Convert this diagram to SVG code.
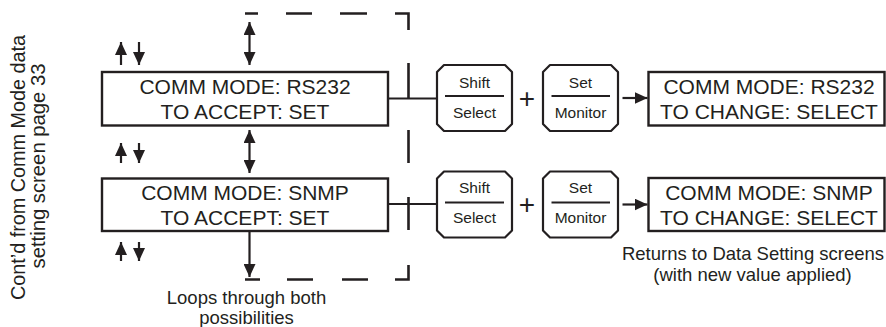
<svg xmlns="http://www.w3.org/2000/svg" xmlns:xlink="http://www.w3.org/1999/xlink" width="886" height="327" viewBox="0 0 886 327">
<defs>
<style>
text{font-family:"Liberation Sans",Arial,Helvetica,sans-serif;fill:#231f20}
.screen{fill:#fff;stroke:#231f20;stroke-width:2.4}
.big{font-size:21px;text-anchor:middle}
.keyt{font-size:15.5px;text-anchor:middle}
.lab{font-size:18.5px;text-anchor:middle}
.side{font-size:20px;text-anchor:middle}
.key{fill:#fff;stroke:#231f20;stroke-width:2.2;stroke-linejoin:round}
.ln{stroke:#231f20;stroke-width:2.2;fill:none}
.dash{stroke:#231f20;stroke-width:2.6;fill:none}
.arr{stroke:#231f20;stroke-width:2.2;fill:none;marker-end:url(#ah)}
.darr{stroke:#231f20;stroke-width:2.2;fill:none;marker-start:url(#ah);marker-end:url(#ah)}
.plus{font-size:28px;text-anchor:middle}
</style>
<marker id="ah" viewBox="0 0 13 12" refX="13" refY="6" markerWidth="13" markerHeight="12" markerUnits="userSpaceOnUse" orient="auto-start-reverse">
<path d="M0,0 L13,6 L0,12 Z" fill="#231f20"/>
</marker>
<path id="keyshape" d="M7,0 H68 L75,7 V59 L68,66 H7 L0,59 V7 Z"/>
</defs>

<g id="side-note">
<text class="side" transform="translate(25,167.5) rotate(-90)" x="0" y="0" textLength="265" lengthAdjust="spacingAndGlyphs">Cont’d from Comm Mode data</text>
<text class="side" transform="translate(44.5,166) rotate(-90)" x="0" y="0" textLength="205" lengthAdjust="spacingAndGlyphs">setting screen page 33</text>
</g>

<g id="connectors">
<line class="arr" x1="121" y1="65" x2="121" y2="42"/>
<line class="arr" x1="139" y1="42" x2="139" y2="65"/>
<line class="arr" x1="121" y1="163" x2="121" y2="143"/>
<line class="arr" x1="139" y1="143" x2="139" y2="163"/>
<line class="arr" x1="121" y1="261" x2="121" y2="242"/>
<line class="arr" x1="139" y1="242" x2="139" y2="261"/>
<line class="darr" x1="249.5" y1="22" x2="249.5" y2="65"/>
<line class="darr" x1="249.5" y1="130" x2="249.5" y2="173"/>
<line class="arr" x1="249.5" y1="231" x2="249.5" y2="277"/>
<path class="dash" d="M245,13.5 H258 M286,13.5 H312 M340,13.5 H367 M395,13.5 H408.5 V30 M408.5,63 V98.5 M408.5,130 V163 M408.5,197 V230 M408.5,265 V279.5 H395 M368,279.5 H342 M313,279.5 H287 M260,279.5 H245"/>
<line class="ln" x1="388" y1="98.5" x2="437" y2="98.5"/>
<line class="ln" x1="388" y1="204" x2="437" y2="204"/>
<line class="arr" x1="622.5" y1="98" x2="647.5" y2="98"/>
<line class="arr" x1="622.5" y1="204.5" x2="647.5" y2="204.5"/>
</g>

<g id="screen-rs232-accept">
<rect class="screen" x="102" y="72" width="286" height="53.5"/>
<text class="big" x="245" y="94">COMM MODE: RS232</text>
<text class="big" x="245" y="119">TO ACCEPT: SET</text>
</g>

<g id="screen-snmp-accept">
<rect class="screen" x="102" y="178.5" width="286" height="52.5"/>
<text class="big" x="245" y="199.5">COMM MODE: SNMP</text>
<text class="big" x="245" y="225">TO ACCEPT: SET</text>
</g>

<g id="key-shift-1">
<use xlink:href="#keyshape" class="key" x="437" y="65"/>
<line class="ln" x1="445" y1="96" x2="504" y2="96"/>
<text class="keyt" x="474.5" y="87.5">Shift</text>
<text class="keyt" x="474.5" y="117.5">Select</text>
</g>
<g id="plus-1"><text class="plus" x="527" y="107.5">+</text></g>
<g id="key-set-1">
<use xlink:href="#keyshape" class="key" x="543" y="65"/>
<line class="ln" x1="551.5" y1="96" x2="610" y2="96"/>
<text class="keyt" x="580.5" y="87.5">Set</text>
<text class="keyt" x="580.5" y="117.5">Monitor</text>
</g>

<g id="key-shift-2">
<use xlink:href="#keyshape" class="key" x="437" y="171.5"/>
<line class="ln" x1="445" y1="202.5" x2="504" y2="202.5"/>
<text class="keyt" x="474.5" y="192.5">Shift</text>
<text class="keyt" x="474.5" y="222.5">Select</text>
</g>
<g id="plus-2"><text class="plus" x="527" y="213.5">+</text></g>
<g id="key-set-2">
<use xlink:href="#keyshape" class="key" x="543" y="171.5"/>
<line class="ln" x1="551.5" y1="202.5" x2="610" y2="202.5"/>
<text class="keyt" x="580.5" y="192.5">Set</text>
<text class="keyt" x="580.5" y="222.5">Monitor</text>
</g>

<g id="screen-rs232-change">
<rect class="screen" x="648.5" y="72" width="236" height="53.5"/>
<text class="big" x="769" y="93.5">COMM MODE: RS232</text>
<text class="big" x="769" y="119">TO CHANGE: SELECT</text>
</g>

<g id="screen-snmp-change">
<rect class="screen" x="648.5" y="178" width="236" height="53"/>
<text class="big" x="769" y="199.5">COMM MODE: SNMP</text>
<text class="big" x="769" y="225">TO CHANGE: SELECT</text>
</g>

<g id="label-loops">
<text class="lab" x="246.5" y="304">Loops through both</text>
<text class="lab" x="246.5" y="324">possibilities</text>
</g>

<g id="label-returns">
<text class="lab" x="753" y="260">Returns to Data Setting screens</text>
<text class="lab" x="752.5" y="281">(with new value applied)</text>
</g>
</svg>
